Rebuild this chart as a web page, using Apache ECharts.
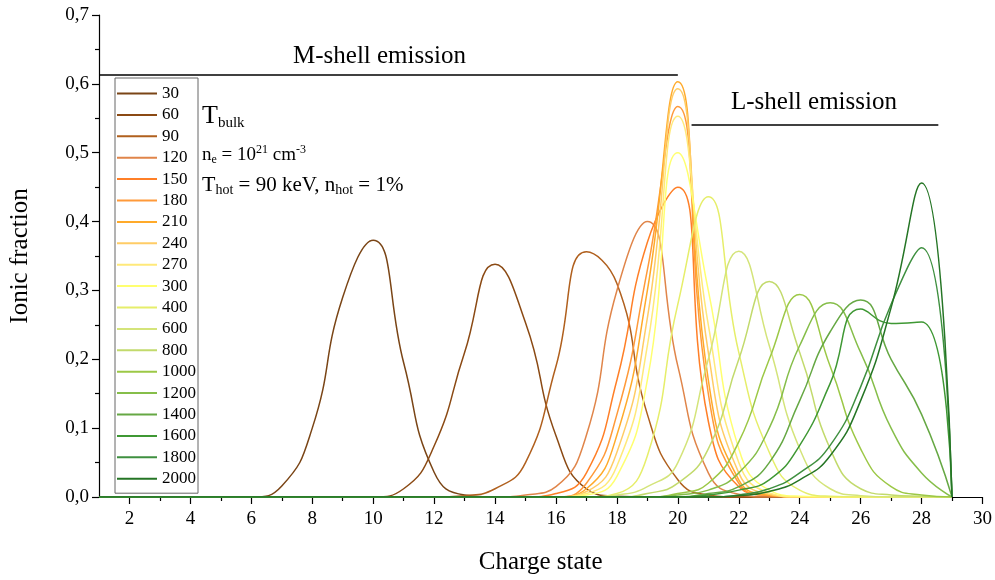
<!DOCTYPE html>
<html>
<head>
<meta charset="utf-8">
<script src="https://cdn.jsdelivr.net/npm/echarts@6/dist/echarts.min.js"></script>
<style>html,body{margin:0;padding:0;background:#fff;}#c{width:995px;height:580px;}</style>
</head>
<body>
<div id="c"></div>
<script>
// Charge states
const chargeStates = [1,2,3,4,5,6,7,8,9,10,11,12,13,14,15,16,17,18,19,20,21,22,23,24,25,26,27,28,29];
// Legend labels (T_bulk, eV)
const temperatures = ['30','60','90','120','150','180','210','240','270','300','400','600','800','1000','1200','1400','1600','1800','2000'];
const colors = ['#7a4516','#8b4a14','#b0601e','#e0854a','#ff7f27','#ff9a3a','#ffaa2a','#ffcc66','#ffe97a','#ffff70',
                '#e6ee6a','#d4e47a','#c2da6c','#9cc846','#86be4a','#66a844','#3f9834','#3f9040','#257525'];

// Ionic fractions, one value per charge state 1..29
const s30   = [0,0,0,0,0,0, 0.016,0.10,0.29,0.373,0.195,0.036,0.003, 0,0,0,0,0,0,0,0,0,0,0,0,0,0,0,0];
const s60   = [0,0,0,0,0,0,0,0,0,0, 0.012,0.074,0.21,0.338,0.253,0.089,0.012,0.001, 0,0,0,0,0,0,0,0,0,0,0];
const s90   = [0,0,0,0,0,0,0,0,0,0,0,0, 0.002,0.012,0.05,0.19,0.356,0.31,0.12,0.025,0.003, 0,0,0,0,0,0,0,0];
const s120  = [0,0,0,0,0,0,0,0,0,0,0,0,0,0, 0.003,0.015,0.09,0.30,0.40,0.19,0.035,0.004, 0,0,0,0,0,0,0];
const s150  = [0,0,0,0,0,0,0,0,0,0,0,0,0,0,0, 0.005,0.035,0.17,0.37,0.45,0.11,0.015,0.002, 0,0,0,0,0,0];
const s180  = [0,0,0,0,0,0,0,0,0,0,0,0,0,0,0,0, 0.02,0.12,0.33,0.567,0.15,0.02,0.002, 0,0,0,0,0,0];
const s210  = [0,0,0,0,0,0,0,0,0,0,0,0,0,0,0,0, 0.012,0.09,0.30,0.603,0.17,0.025,0.003, 0,0,0,0,0,0];
const s240  = [0,0,0,0,0,0,0,0,0,0,0,0,0,0,0,0, 0.008,0.065,0.26,0.593,0.21,0.035,0.004, 0,0,0,0,0,0];
const s270  = [0,0,0,0,0,0,0,0,0,0,0,0,0,0,0,0, 0.005,0.045,0.22,0.553,0.25,0.05,0.006, 0,0,0,0,0,0];
const s300  = [0,0,0,0,0,0,0,0,0,0,0,0,0,0,0,0, 0.003,0.03,0.17,0.50,0.30,0.07,0.01,0.001, 0,0,0,0,0];
const s400  = [0,0,0,0,0,0,0,0,0,0,0,0,0,0,0,0,0, 0.005,0.06,0.28,0.436,0.21,0.065,0.01,0.001, 0,0,0,0];
const s600  = [0,0,0,0,0,0,0,0,0,0,0,0,0,0,0,0,0, 0.003,0.015,0.05,0.20,0.357,0.22,0.07,0.012,0.002, 0,0,0];
const s800  = [0,0,0,0,0,0,0,0,0,0,0,0,0,0,0,0,0,0, 0.005,0.02,0.07,0.20,0.313,0.21,0.07,0.012,0.003,0.001, 0];
const s1000 = [0,0,0,0,0,0,0,0,0,0,0,0,0,0,0,0,0,0,0, 0.005,0.02,0.08,0.20,0.294,0.19,0.07,0.015,0.003, 0];
const s1200 = [0,0,0,0,0,0,0,0,0,0,0,0,0,0,0,0,0,0,0, 0.003,0.01,0.035,0.10,0.22,0.282,0.21,0.10,0.035, 0];
const s1400 = [0,0,0,0,0,0,0,0,0,0,0,0,0,0,0,0,0,0,0,0, 0.005,0.015,0.05,0.14,0.24,0.286,0.20,0.12, 0];
const s1600 = [0,0,0,0,0,0,0,0,0,0,0,0,0,0,0,0,0,0,0,0, 0.003,0.01,0.025,0.075,0.165,0.273,0.252,0.254, 0];
const s1800 = [0,0,0,0,0,0,0,0,0,0,0,0,0,0,0,0,0,0,0,0,0, 0.003,0.012,0.035,0.075,0.16,0.28,0.362, 0];
const s2000 = [0,0,0,0,0,0,0,0,0,0,0,0,0,0,0,0,0,0,0,0,0, 0.002,0.008,0.025,0.06,0.14,0.275,0.456, 0];

const xMajorTicks = [2,4,6,8,10,12,14,16,18,20,22,24,26,28,30];
const xMinorTicks = [3,5,7,9,11,13,15,17,19,21,23,25,27,29];

const allSeries = [s30,s60,s90,s120,s150,s180,s210,s240,s270,s300,s400,s600,s800,s1000,s1200,s1400,s1600,s1800,s2000];

const FONT = '"Liberation Serif", "Times New Roman", serif';

const series = allSeries.map((vals, i) => ({
  name: temperatures[i],
  type: 'line',
  xAxisIndex: 0,
  data: chargeStates.map((q, k) => [q, vals[k]]),
  smooth: 0.5,
  symbol: 'none',
  lineStyle: { width: 1.5, color: colors[i] },
  itemStyle: { color: colors[i] },
  z: 2 + i
}));

// annotation lines (in data coordinates)
series.push({
  type: 'line', data: [], symbol: 'none', silent: true,
  markLine: {
    silent: true, symbol: 'none', animation: false,
    lineStyle: { color: '#000', width: 1.6, type: 'solid' },
    label: { show: false },
    data: [
      [{ coord: [1, 0.613] }, { coord: [20, 0.613] }],
      [{ coord: [20.45, 0.541] }, { coord: [28.55, 0.541] }]
    ]
  }
});

const chart = echarts.init(document.getElementById('c'), null, { renderer: 'canvas' });
chart.setOption({
  animation: false,
  backgroundColor: '#fff',
  textStyle: { fontFamily: FONT },
  grid: { left: 97, right: 10, top: 15, bottom: 82, containLabel: false },
  legend: {
    orient: 'vertical', left: 115, top: 78,
    data: temperatures,
    icon: 'rect', itemWidth: 40, itemHeight: 2, itemGap: 4.4,
    padding: [7, 2, 6, 2],
    borderColor: '#666', borderWidth: 1,
    textStyle: { fontFamily: FONT, fontSize: 17, color: '#000', lineHeight: 16 },
    selectedMode: false
  },
  xAxis: [{
    type: 'value', min: 1, max: 30,
    name: 'Charge state', nameLocation: 'middle', nameGap: 53,
    nameTextStyle: { fontFamily: FONT, fontSize: 25, color: '#000' },
    axisLine: { show: true, onZero: false, lineStyle: { color: '#000', width: 1.2 } },
    axisTick: { show: true, inside: false, length: 7, customValues: xMajorTicks, lineStyle: { color: '#000', width: 1.2 } },
    axisLabel: { show: true, customValues: xMajorTicks, fontFamily: FONT, fontSize: 19, color: '#000', margin: 13 },
    splitLine: { show: false }
  }, {
    type: 'value', min: 1, max: 30, position: 'bottom',
    axisLine: { show: false },
    axisTick: { show: true, inside: false, length: 4, customValues: xMinorTicks, lineStyle: { color: '#000', width: 1.2 } },
    axisLabel: { show: false, customValues: xMinorTicks },
    splitLine: { show: false }
  }],
  yAxis: {
    type: 'value', min: 0, max: 0.7, interval: 0.1,
    name: 'Ionic fraction', nameLocation: 'middle', nameGap: 66, nameRotate: 90,
    nameTextStyle: { fontFamily: FONT, fontSize: 25, color: '#000' },
    axisLine: { show: true, lineStyle: { color: '#000', width: 1.2 } },
    axisTick: { show: true, inside: false, length: 7, lineStyle: { color: '#000', width: 1.2 } },
    minorTick: { show: true, splitNumber: 2, length: 4, lineStyle: { color: '#000', width: 1.2 } },
    axisLabel: { fontFamily: FONT, fontSize: 19, color: '#000', margin: 10,
      formatter: v => v.toFixed(1).replace('.', ',') },
    splitLine: { show: false }, minorSplitLine: { show: false }
  },
  graphic: [
    { type: 'text', left: 293, top: 44, style: { text: 'M-shell emission', font: '25px ' + FONT, fill: '#000' } },
    { type: 'text', left: 731, top: 90, style: { text: 'L-shell emission', font: '25px ' + FONT, fill: '#000' } },
    { type: 'text', left: 202, top: 103, style: {
        text: '{a|T}{b|bulk}',
        rich: { a: { fontFamily: FONT, fontSize: 26, lineHeight: 28, verticalAlign: 'top', fill: '#000' },
                b: { fontFamily: FONT, fontSize: 15, lineHeight: 15, verticalAlign: 'bottom', fill: '#000' } } } },
    { type: 'text', left: 202, top: 144, style: {
        text: '{m|n}{s|e}{m| = 10}{p|21}{m| cm}{p|-3}',
        rich: { m: { fontFamily: FONT, fontSize: 19, lineHeight: 22, fill: '#000' },
                s: { fontFamily: FONT, fontSize: 12, lineHeight: 12, verticalAlign: 'bottom', fill: '#000' },
                p: { fontFamily: FONT, fontSize: 12, lineHeight: 12, verticalAlign: 'top', fill: '#000' } } } },
    { type: 'text', left: 202, top: 174, style: {
        text: '{t|T}{s|hot}{m| = 90 keV, n}{s|hot}{m| = 1%}',
        rich: { t: { fontFamily: FONT, fontSize: 22, lineHeight: 25, fill: '#000' },
                m: { fontFamily: FONT, fontSize: 21, lineHeight: 25, fill: '#000' },
                s: { fontFamily: FONT, fontSize: 14, lineHeight: 14, verticalAlign: 'bottom', fill: '#000' } } } }
  ],
  series: series
});
</script>
</body>
</html>
